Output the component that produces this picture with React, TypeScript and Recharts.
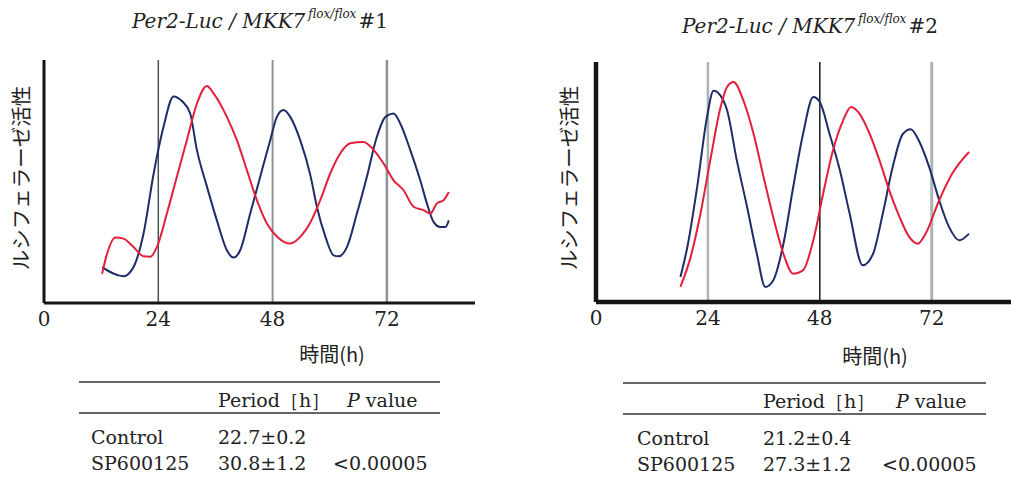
import React from "react";
import { LineChart, Line, XAxis, YAxis, ReferenceLine } from "recharts";

// ---- Data: panel #1 ----
const p1ControlT = [12.2, 16.7, 18.8, 20.9, 23, 25.1, 27.2, 29, 30.7, 32.1, 34.2, 36.3, 38.4, 39.8, 41.2, 43.3, 45.4, 47.5, 48.9, 50.3, 51.7, 53.8, 56, 57.3, 59.1, 60.8, 61.9, 63.6, 65.7, 67.8, 69.9, 71.7, 73.4, 74.8, 76.9, 79, 80.4, 81.8, 83.2, 84.3, 85];
const p1ControlV = [14.8, 11, 14.8, 28.6, 53, 72.5, 85, 83, 78, 63, 48, 34, 21.7, 18.7, 21.7, 36.8, 52, 67, 76.6, 79.4, 76.6, 67, 52, 39.6, 27.2, 19.6, 19.2, 23, 36.8, 52, 68.4, 76.6, 78, 73.9, 63, 50.5, 41, 33.4, 31.3, 31.3, 34];
const p1DrugT = [12.2, 13.2, 15, 16.7, 18.8, 20.9, 22.3, 23.7, 25.8, 27.9, 30, 32.1, 34.2, 35.6, 38.4, 40.5, 42.6, 44.7, 46.8, 49, 51.7, 53.8, 56, 58, 60.1, 62.2, 64.3, 67.1, 69.2, 71.3, 73.4, 75.5, 77.6, 79.7, 81.1, 82.5, 83.9, 85];
const p1DrugV = [12, 20, 27, 26.5, 23, 19.2, 19, 23, 36.8, 52, 67, 82, 89.3, 86.3, 76.6, 67, 54.7, 42.3, 32.7, 27.2, 24.5, 27.2, 33.4, 42.3, 53.3, 61.5, 65.7, 66.3, 63, 57.4, 50.5, 46.4, 39.6, 38.2, 36.8, 41, 42.3, 45.7];

// ---- Data: panel #2 ----
const p2ControlT = [18.1, 19.6, 21.7, 23.8, 25.2, 26.7, 28.1, 30.2, 32.4, 34.5, 36.3, 38, 40.2, 42.3, 44.4, 46.6, 48, 50.1, 52.3, 54.4, 57.2, 59.4, 61.5, 63.6, 65.8, 67.5, 69.3, 71.5, 73.6, 75.7, 77.9, 80];
const p2ControlV = [10.4, 23, 48, 77, 88, 86, 80, 59, 39.6, 20, 6.3, 9, 24.3, 48, 70, 85.4, 83.3, 70, 54.9, 36.8, 15.3, 20, 36.8, 56, 70, 72, 67, 56, 42.4, 31.3, 25.7, 28.5];
const p2DrugT = [18.1, 20.3, 22.4, 24.5, 26.7, 28.1, 29.5, 31.6, 33.8, 35.9, 38, 40.2, 42.3, 44.4, 46.6, 48.7, 50.8, 53, 54.7, 56.5, 58.7, 60.8, 62.9, 65.1, 67.2, 69, 70.7, 73.6, 76.4, 80];
const p2DrugV = [6.3, 18.8, 36.8, 59, 81, 89.6, 91.7, 84, 70, 52.4, 35.4, 20, 11.8, 13.2, 25.7, 45, 63, 75.7, 81.3, 78.5, 70, 59, 46.5, 35.4, 27, 24.3, 28.5, 42.4, 53.5, 62.5];

const xTicks = [0, 24, 48, 72];
const yLabel = "ルシフェラーゼ活性";
const xLabel = "時間(h)";
const tableHeader = ["Period［h］", "value"];
const rowNames = ["Control", "SP600125"];
const p1Periods = ["22.7±0.2", "30.8±1.2"];
const p2Periods = ["21.2±0.4", "27.3±1.2"];
const pValue = "<0.00005";

const BLUE = "#1f2c68";
const RED = "#e2203a";
const SERIF = "'DejaVu Serif', 'Liberation Serif', serif";
const SANS = "'Noto Sans CJK JP', 'Noto Sans', sans-serif";

const zip = (t: number[], v: number[]) => t.map((x, i) => ({ t: x, v: v[i] }));

type PanelProps = {
  left: number;
  width: number;
  margin: { top: number; left: number; right: number; bottom: number };
  xMax: number;
  axisW: number;
  control: { t: number; v: number }[];
  drug: { t: number; v: number }[];
  grid: { x: number; stroke: string; w: number }[];
};

function Panel(p: PanelProps) {
  return (
    <div style={{ position: "absolute", left: p.left, top: 0 }}>
      <LineChart width={p.width} height={340} margin={p.margin}>
        <XAxis
          dataKey="t"
          type="number"
          domain={[0, p.xMax]}
          ticks={xTicks}
          allowDataOverflow
          tickLine={false}
          tickMargin={3}
          height={30}
          axisLine={{ stroke: "#151515", strokeWidth: p.axisW }}
          tick={{ fill: "#222", fontSize: 20, fontFamily: SERIF }}
        />
        <YAxis
          type="number"
          domain={[0, 100]}
          width={2}
          tick={false}
          tickLine={false}
          axisLine={{ stroke: "#151515", strokeWidth: p.axisW }}
        />
        {p.grid.map((g) => (
          <ReferenceLine key={g.x} x={g.x} stroke={g.stroke} strokeWidth={g.w} />
        ))}
        <Line data={p.control} dataKey="v" stroke={BLUE} strokeWidth={2} dot={false} isAnimationActive={false} type="monotone" />
        <Line data={p.drug} dataKey="v" stroke={RED} strokeWidth={2} dot={false} isAnimationActive={false} type="monotone" />
      </LineChart>
    </div>
  );
}

function Title({ x, y, num }: { x: number; y: number; num: string }) {
  return (
    <text x={x} y={y} fontFamily={SERIF} fontSize={20} fill="#222">
      <tspan fontStyle="italic">Per2-Luc / MKK7</tspan>
      <tspan fontStyle="italic" fontSize={12} dy={-10} dx={3}>flox/flox</tspan>
      <tspan dy={10} dx={2}>{num}</tspan>
    </text>
  );
}

function Table({ x0, x1, yTop, c0, c1, c2, periods }: { x0: number; x1: number; yTop: number; c0: number; c1: number; c2: number; periods: string[] }) {
  return (
    <g fontFamily={SERIF} fontSize={19} fill="#222">
      <line x1={x0} x2={x1} y1={yTop} y2={yTop} stroke="#333" strokeWidth={1.5} />
      <line x1={x0} x2={x1} y1={yTop + 31} y2={yTop + 31} stroke="#333" strokeWidth={1.5} />
      <text x={c1} y={yTop + 25}>{tableHeader[0]}</text>
      <text x={c2 + 14} y={yTop + 25}>
        <tspan fontStyle="italic">P</tspan> {tableHeader[1]}
      </text>
      <text x={c0} y={yTop + 62}>{rowNames[0]}</text>
      <text x={c1} y={yTop + 62}>{periods[0]}</text>
      <text x={c0} y={yTop + 88}>{rowNames[1]}</text>
      <text x={c1} y={yTop + 88}>{periods[1]}</text>
      <text x={c2} y={yTop + 88}>{pValue}</text>
    </g>
  );
}

export default function App() {
  return (
    <div style={{ position: "absolute", left: 0, top: 0, width: 1011, height: 481, background: "#fff", overflow: "hidden" }}>
      <Panel
        left={0}
        width={500}
        margin={{ top: 60, left: 42, right: 25, bottom: 7 }}
        xMax={90.5}
        axisW={3}
        control={zip(p1ControlT, p1ControlV)}
        drug={zip(p1DrugT, p1DrugV)}
        grid={[
          { x: 24, stroke: "#4a5050", w: 1.5 },
          { x: 48, stroke: "#8c9494", w: 2 },
          { x: 72, stroke: "#8c9494", w: 2.5 },
        ]}
      />
      <Panel
        left={540}
        width={471}
        margin={{ top: 62, left: 54, right: 0, bottom: 8 }}
        xMax={89}
        axisW={4.5}
        control={zip(p2ControlT, p2ControlV)}
        drug={zip(p2DrugT, p2DrugV)}
        grid={[
          { x: 24, stroke: "#aab4b4", w: 2.5 },
          { x: 48, stroke: "#1a1a1a", w: 1.5 },
          { x: 72, stroke: "#aab4b4", w: 3 },
        ]}
      />
      <svg width={1011} height={481} style={{ position: "absolute", left: 0, top: 0, pointerEvents: "none" }}>
        <Title x={132} y={28} num="#1" />
        <Title x={682} y={33} num="#2" />
        <text x={20} y={178} transform="rotate(-90 20 178)" textAnchor="middle" dominantBaseline="central" fontFamily={SANS} fontSize={20.5} fill="#222">{yLabel}</text>
        <text x={568} y={178} transform="rotate(-90 568 178)" textAnchor="middle" dominantBaseline="central" fontFamily={SANS} fontSize={20.5} fill="#222">{yLabel}</text>
        <text x={332} y={353} textAnchor="middle" dominantBaseline="central" fontFamily={SANS} fontSize={20} fill="#222">{xLabel}</text>
        <text x={875} y={355} textAnchor="middle" dominantBaseline="central" fontFamily={SANS} fontSize={20} fill="#222">{xLabel}</text>
        <Table x0={79} x1={440} yTop={382} c0={91} c1={218} c2={333} periods={p1Periods} />
        <Table x0={623} x1={986} yTop={383} c0={637} c1={763} c2={882} periods={p2Periods} />
      </svg>
    </div>
  );
}
